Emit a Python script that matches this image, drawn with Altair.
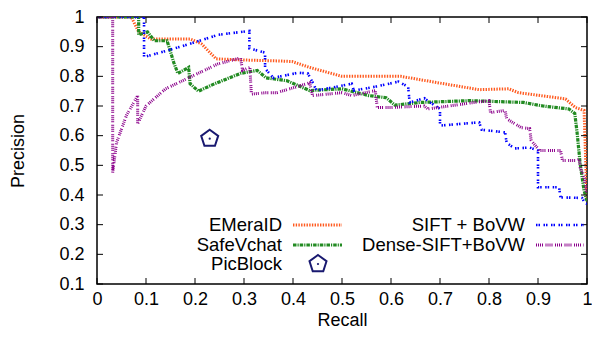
import altair as alt
import pandas as pd

# ---------------- data ----------------
x_ticks = [0, 0.1, 0.2, 0.3, 0.4, 0.5, 0.6, 0.7, 0.8, 0.9, 1]
y_ticks = [0.1, 0.2, 0.3, 0.4, 0.5, 0.6, 0.7, 0.8, 0.9, 1]

series_names = ["EMeraID", "SafeVchat", "PicBlock", "SIFT + BoVW", "Dense-SIFT+BoVW"]

emerald_x = [0, 0.07, 0.085, 0.11, 0.19, 0.213, 0.243, 0.30, 0.367, 0.398, 0.434, 0.50,
             0.62, 0.69, 0.78, 0.84, 0.86, 0.956, 0.976, 0.994, 1.0]
emerald_y = [1, 1, 0.95, 0.926, 0.926, 0.91, 0.859, 0.855, 0.852, 0.85, 0.83, 0.80,
             0.80, 0.78, 0.755, 0.758, 0.745, 0.724, 0.695, 0.685, 0.38]

safev_x = [0, 0.085, 0.085, 0.103, 0.117, 0.143, 0.157, 0.165, 0.187, 0.19, 0.207, 0.24,
           0.293, 0.327, 0.345, 0.388, 0.434, 0.50, 0.555, 0.59, 0.608, 0.66, 0.76,
           0.87, 0.91, 0.963, 0.975, 0.98, 0.986, 0.994, 1.0]
safev_y = [1, 1, 0.94, 0.95, 0.92, 0.92, 0.845, 0.81, 0.83, 0.775, 0.75, 0.775,
           0.81, 0.82, 0.795, 0.785, 0.752, 0.758, 0.735, 0.728, 0.703, 0.712, 0.718,
           0.712, 0.70, 0.69, 0.675, 0.607, 0.506, 0.415, 0.38]

picblock_x = [0.23]
picblock_y = [0.59]

sift_x = [0, 0.096, 0.096, 0.15, 0.20, 0.247, 0.311, 0.311, 0.343, 0.343, 0.36, 0.41,
          0.43, 0.44, 0.448, 0.52, 0.524, 0.568, 0.615, 0.635, 0.638, 0.668, 0.68, 0.70,
          0.70, 0.78, 0.785, 0.833, 0.836, 0.853, 0.883, 0.90, 0.90, 0.943, 0.946, 0.99,
          0.995, 1.0]
sift_y = [1, 1, 0.865, 0.89, 0.915, 0.94, 0.953, 0.894, 0.88, 0.826, 0.795, 0.812,
          0.81, 0.78, 0.752, 0.775, 0.752, 0.765, 0.782, 0.765, 0.712, 0.726, 0.712, 0.69,
          0.634, 0.645, 0.62, 0.611, 0.575, 0.557, 0.56, 0.55, 0.426, 0.426, 0.392, 0.39,
          0.375, 0.37]

dense_x = [0, 0.032, 0.032, 0.04, 0.06, 0.083, 0.083, 0.10, 0.14, 0.187, 0.247, 0.293,
           0.297, 0.312, 0.315, 0.345, 0.367, 0.434, 0.44, 0.50, 0.52, 0.568, 0.572, 0.60,
           0.668, 0.675, 0.77, 0.80, 0.803, 0.833, 0.836, 0.866, 0.883, 0.886, 0.903,
           0.946, 0.95, 0.976, 0.984, 0.986, 0.994, 1.0]
dense_y = [1, 1, 0.476, 0.577, 0.668, 0.735, 0.64, 0.70, 0.758, 0.795, 0.842, 0.862,
           0.82, 0.83, 0.74, 0.745, 0.745, 0.778, 0.735, 0.745, 0.735, 0.752, 0.695, 0.695,
           0.70, 0.69, 0.712, 0.718, 0.678, 0.685, 0.657, 0.627, 0.624, 0.584, 0.55,
           0.55, 0.516, 0.516, 0.52, 0.493, 0.46, 0.40]

# ---------------- styling ----------------
W, H = 490, 267
FONT = "Liberation Sans"
C_ORANGE = "#ff5a1f"
C_GREEN = "#228b22"
C_BLUE = "#0000ff"
C_PURPLE = "#8b008b"
C_NAVY = "#191970"
PENTAGON = "M0,-1L0.951,-0.309L0.588,0.809L-0.588,0.809L-0.951,-0.309Z"

xsc = alt.Scale(domain=[0, 1], nice=False, zero=False)
ysc = alt.Scale(domain=[0.1, 1], nice=False, zero=False)


def frame(xs, ys):
    return pd.DataFrame({"recall": xs, "precision": ys, "order": list(range(len(xs)))})


def x_enc(field="recall:Q"):
    return alt.X(field, scale=xsc, title="Recall",
                 axis=alt.Axis(values=x_ticks, format="~g", labelPadding=6, titlePadding=3))


def y_enc(field="precision:Q"):
    return alt.Y(field, scale=ysc, title="Precision",
                 axis=alt.Axis(values=y_ticks, format="~g", labelPadding=13, titlePadding=31))


def line(xs, ys, color, dash, width):
    return alt.Chart(frame(xs, ys)).mark_line(
        color=color, strokeDash=dash, strokeWidth=width, strokeCap="butt", clip=True
    ).encode(x=x_enc(), y=y_enc(), order="order:Q")


l_em = line(emerald_x, emerald_y, C_ORANGE, [1.4, 1.3], 3)
l_sv = line(safev_x, safev_y, C_GREEN, [3.5, 1, 1.2, 1], 3.2)
l_si = line(sift_x, sift_y, C_BLUE, [1.5, 1, 1.5, 3.5], 2.6)
l_de = line(dense_x, dense_y, C_PURPLE, [1, 1, 1, 1, 1, 1, 1, 2.5], 3)

pic = alt.Chart(frame(picblock_x, picblock_y)).mark_point(
    shape=PENTAGON, size=320, filled=False, color=C_NAVY, strokeWidth=2, opacity=1
).encode(x=x_enc(), y=y_enc())
pic_dot = alt.Chart(frame(picblock_x, picblock_y)).mark_point(
    shape="circle", size=5, filled=True, color=C_NAVY, opacity=1
).encode(x=x_enc(), y=y_enc())

# inward tick marks on all four sides
xt = pd.DataFrame({"recall": x_ticks})
yt = pd.DataFrame({"precision": y_ticks})
tick_b = alt.Chart(xt).mark_rule(color="black", strokeWidth=1).encode(
    x=x_enc(), y=alt.value(H), y2=alt.value(H - 6))
tick_t = alt.Chart(xt).mark_rule(color="black", strokeWidth=1).encode(
    x=x_enc(), y=alt.value(0), y2=alt.value(6))
tick_l = alt.Chart(yt).mark_rule(color="black", strokeWidth=1).encode(
    y=y_enc(), x=alt.value(0), x2=alt.value(6))
tick_r = alt.Chart(yt).mark_rule(color="black", strokeWidth=1).encode(
    y=y_enc(), x=alt.value(W), x2=alt.value(W - 6))

# legend (manual, gnuplot style: label then sample)
leg_df = pd.DataFrame({"name": series_names})


def leg_text(name, x, y):
    return alt.Chart(pd.DataFrame({"name": [name]})).mark_text(
        align="right", baseline="middle", font=FONT, fontSize=18.5, color="black"
    ).encode(text="name:N", x=alt.value(x), y=alt.value(y))


def leg_line(color, dash, width, x1, x2, y):
    return alt.Chart(leg_df.head(1)).mark_rule(
        color=color, strokeDash=dash, strokeWidth=width, strokeCap="butt"
    ).encode(x=alt.value(x1), x2=alt.value(x2), y=alt.value(y))


r1, r2, r3 = 208, 228, 247
legend = [
    leg_text(series_names[0], 185, r1), leg_line(C_ORANGE, [1.4, 1.3], 3, 196, 245, r1),
    leg_text(series_names[1], 185, r2), leg_line(C_GREEN, [3.5, 1, 1.2, 1], 3.2, 196, 245, r2),
    leg_text(series_names[2], 185, r3),
    leg_text(series_names[3], 428, r1), leg_line(C_BLUE, [1.5, 1, 1.5, 3.5], 2.6, 439, 487, r1),
    leg_text(series_names[4], 428, r2), leg_line(C_PURPLE, [1, 1, 1, 1, 1, 1, 1, 2.5], 3, 439, 487, r2),
    alt.Chart(leg_df.head(1)).mark_point(shape=PENTAGON, size=320, filled=False, color=C_NAVY,
                                         strokeWidth=2, opacity=1).encode(x=alt.value(221), y=alt.value(r3)),
    alt.Chart(leg_df.head(1)).mark_point(shape="circle", size=5, filled=True, color=C_NAVY,
                                         opacity=1).encode(x=alt.value(221), y=alt.value(r3)),
]

chart = alt.layer(
    l_em, l_sv, l_si, l_de, pic, pic_dot, tick_b, tick_t, tick_l, tick_r, *legend
).properties(
    width=W, height=H,
    autosize=alt.AutoSizeParams(type="none"),
    padding={"left": 89, "top": 9, "right": 5, "bottom": 45},
    background="white",
).configure_view(
    stroke="black", strokeWidth=1.5
).configure_axis(
    ticks=False, domain=False, grid=False,
    labelFont=FONT, labelFontSize=18, labelColor="black",
    labelFlush=False, labelOverlap=False,
    titleFont=FONT, titleFontSize=18, titleFontWeight="normal", titleColor="black",
)

chart.save("out.html", embed_options={"renderer": "svg", "actions": False})
